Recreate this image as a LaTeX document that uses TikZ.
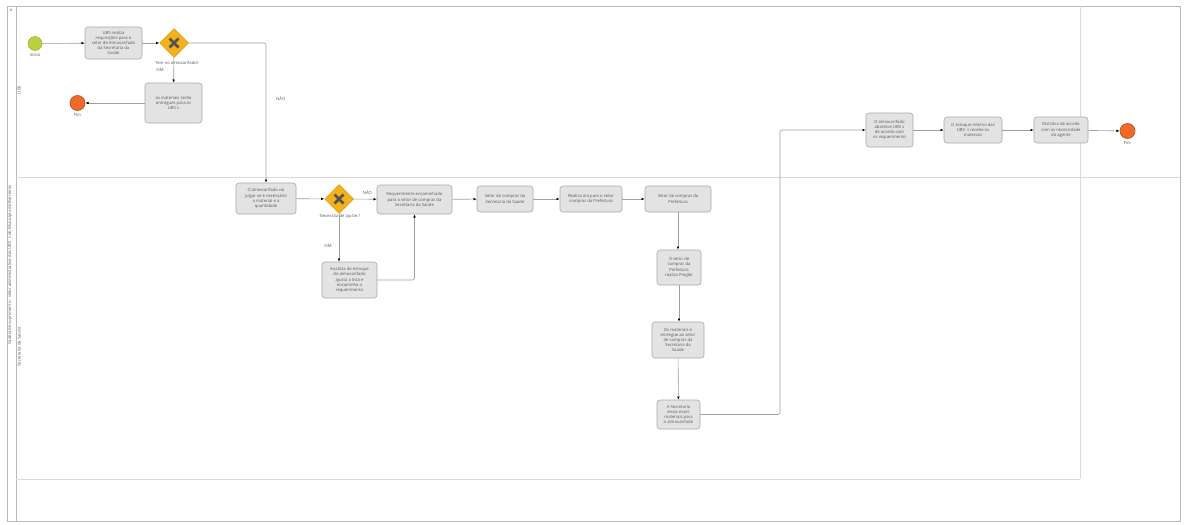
\documentclass[tikz,border=0pt]{standalone}
\usepackage{fontspec}
\setmainfont{Open Sans}
\usetikzlibrary{shapes.geometric,arrows.meta}

\definecolor{boxgray}{HTML}{E4E3E3}
\definecolor{boxline}{HTML}{A8A8A8}
\definecolor{gateorange}{HTML}{F5B11A}
\definecolor{startgreen}{HTML}{B6D33C}
\definecolor{endorange}{HTML}{EE6B2B}
\definecolor{laneline}{HTML}{DADADA}
\definecolor{txtgray}{HTML}{5A5A5A}

\tikzset{
  task/.style={draw=boxline, fill=boxgray, rounded corners=3pt, align=center,
    font=\fontsize{4.2}{5.2}\selectfont, text=txtgray, inner sep=1pt, line width=0.6pt},
  gate/.style={diamond, draw=gateorange!85!black, fill=gateorange, minimum size=29pt,
    inner sep=0pt, line width=0.5pt},
  startev/.style={circle, draw=startgreen!80!black, fill=startgreen, minimum size=14pt, inner sep=0pt},
  endev/.style={circle, draw=endorange!80!black, fill=endorange, minimum size=15pt, inner sep=0pt, line width=0.7pt},
  small/.style={font=\fontsize{4.2}{5.2}\selectfont, text=txtgray, inner sep=0pt},
  flow/.style={draw=gray!75, line width=0.6pt, rounded corners=2pt,
    -{Latex[black,length=3.2pt,width=2.6pt]}},
  lane/.style={draw=laneline, line width=0.8pt},
}
\newcommand{\gatecross}[1]{%
  \draw[line width=2.6pt, gray!65!black] ([shift={(-4.5,-4.5)}]#1.center) -- ([shift={(4.5,4.5)}]#1.center);
  \draw[line width=2.6pt, gray!65!black] ([shift={(-4.5,4.5)}]#1.center) -- ([shift={(4.5,-4.5)}]#1.center);}

\begin{document}
\begin{tikzpicture}[x=1pt,y=-1pt]
  \useasboundingbox (0,0) rectangle (1192,525);
  \fill[white] (0,0) rectangle (1192,525);

  % pool and lanes
  \draw[gray!55, line width=0.8pt] (7,6) rectangle (1180,521);
  \draw[gray!55, line width=0.8pt] (16,6) -- (16,521);
  \draw[lane] (16,177) -- (1180,177);
  \draw[lane] (16,479) -- (1080,479);
  \draw[lane] (1080,6) -- (1080,479);
  \node[small, font=\fontsize{6}{6}\selectfont] (plus) at (11,11) {+};
  \node[small, rotate=90] (poolname) at (10,265) {Cadeia de suprimento - setor administrativo das UBS´s do Município de Barreiros};
  \node[small, rotate=90] (laneubs) at (19,90) {UBS};
  \node[small, rotate=90] (lanesec) at (19,347) {Secretaria da Saúde};

  % UBS lane
  \node[startev] (inicio) at (35,43.5) {};
  \node[small, below=2pt] (inicioname) at (inicio.south) {Início};
  \node[task, minimum width=57pt, minimum height=32pt] (requis) at (113.5,43) {UBS realiza\\requisições para o\\setor de Almoxarifado\\da Secretaria da\\Saúde};
  \node[gate] (temalmox) at (174,43) {};
  \gatecross{temalmox}
  \node[small] (temname) at (177,63) {Tem no almoxarifado?};
  \node[task, minimum width=57pt, minimum height=40pt] (entregues) at (173.5,103) {os materiais serão\\entregues para as\\UBS s};
  \node[endev] (fim1) at (77.5,103) {};
  \node[small, below=2pt] (fimname1) at (fim1.south) {Fim};

  % Secretaria lane
  \node[task, minimum width=60pt, minimum height=31pt] (julgar) at (266,198.5) {O almoxarifado vai\\julgar se é necessário\\o material e a\\quantidade};
  \node[gate] (ajuste) at (339,199) {};
  \gatecross{ajuste}
  \node[small] (ajustename) at (340,216) {Necessita de ajuste ?};
  \node[task, minimum width=75pt, minimum height=29pt] (encaminha) at (414.5,199.5) {Requerimento encaminhado\\para o setor de compras da\\Secretaria da Saúde};
  \node[task, minimum width=55pt, minimum height=36pt] (analista) at (349.5,280) {Analista de estoque\\do almoxarifado\\ajusta a lista e\\encaminha o\\requerimento};
  \node[task, minimum width=56pt, minimum height=26pt] (comprassec) at (505,199) {Setor de compras da\\Secretaria da Saúde};
  \node[task, minimum width=62pt, minimum height=26pt] (ata) at (591,199) {Realiza ata para o setor\\compras da Prefeitura};
  \node[task, minimum width=66pt, minimum height=26pt] (compraspref) at (678,199) {Setor de compras da\\Prefeitura};
  \node[task, minimum width=44pt, minimum height=35pt] (pregao) at (679,267.5) {O setor de\\compras da\\Prefeitura\\realiza Pregão};
  \node[task, minimum width=52pt, minimum height=36pt] (materiais) at (678,340) {Os materiais e\\entregue ao setor\\de compras da\\Secretaria da\\Saúde};
  \node[task, minimum width=43pt, minimum height=29pt] (envia) at (678.5,414.5) {A Secretaria\\envia esses\\materiais para\\o almoxarifado};

  % back to UBS lane
  \node[task, minimum width=47pt, minimum height=34pt] (abastece) at (889.5,130) {O almoxarifado\\abastece UBS s\\de acordo com\\os requerimento};
  \node[task, minimum width=58pt, minimum height=26pt] (estoque) at (973,130) {O estoque interno das\\UBS´s recebe os\\materiais};
  \node[task, minimum width=54pt, minimum height=26pt] (distribui) at (1061,130) {Distribui de acordo\\com as necessidade\\do agente};
  \node[endev] (fim2) at (1127.5,131) {};
  \node[small, below=2pt] (fimname2) at (fim2.south) {Fim};

  % flows
  \draw[flow] (inicio) -- (requis);
  \draw[flow] (requis) -- (temalmox);
  \draw[flow] (temalmox) -- (entregues);
  \draw[flow] (entregues) -- (fim1);
  \draw[flow] (temalmox) -| node[small, pos=0.7, right=10pt] {NÃO} (julgar);
  \node[small] (sim1) at (160,70) {SIM};
  \draw[flow] (julgar) -- (ajuste);
  \draw[flow] (ajuste) -- node[small, above=4pt, pos=0.6] {NÃO} (encaminha);
  \draw[flow] (ajuste) -- node[small, pos=0.68, left=7pt] {SIM} (ajuste |- analista.north);
  \draw[flow] (analista.east) -| (encaminha.south);
  \draw[flow] (encaminha) -- (comprassec);
  \draw[flow] (comprassec) -- (ata);
  \draw[flow] (ata) -- (compraspref);
  \draw[flow] (compraspref) -- (compraspref |- pregao.north);
  \draw[flow] (pregao) -- (pregao |- materiais.north);
  \draw[flow] (materiais) -- (envia);
  \coordinate (volta) at (780,414.5);
  \draw[flow] (envia.east) -- (volta) |- (abastece.west);
  \draw[flow] (abastece) -- (estoque);
  \draw[flow] (estoque) -- (distribui);
  \draw[flow] (distribui) -- (fim2);
\end{tikzpicture}
\end{document}
